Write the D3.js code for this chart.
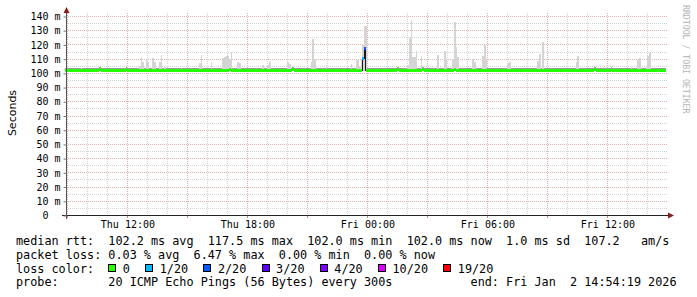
<!DOCTYPE html>
<html>
<head>
<meta charset="utf-8">
<script src="https://cdn.jsdelivr.net/npm/d3@7"></script>
<style>
  body { margin: 0; background: #fff; }
  svg { display: block; }
  text { font-family: "DejaVu Sans Mono", monospace; }
</style>
</head>
<body>
<svg id="chart" width="697" height="297"></svg>
<script>
const startTime = "2026-01-01 08:54:19";
const endTime = "2026-01-02 14:54:19";

const yTicks = [0, 10, 20, 30, 40, 50, 60, 70, 80, 90, 100, 110, 120, 130, 140];
const timeLabels = ["2026-01-01 12:00", "2026-01-01 18:00", "2026-01-02 00:00", "2026-01-02 06:00", "2026-01-02 12:00"];

// median rtt as step changes: time, ms, lost pings out of 20
const medianTimes = [
  "2026-01-01 08:54", "2026-01-01 10:35", "2026-01-01 10:40", "2026-01-01 11:55", "2026-01-01 12:00",
  "2026-01-01 17:05", "2026-01-01 17:10", "2026-01-01 20:15", "2026-01-01 20:20",
  "2026-01-01 23:45", "2026-01-01 23:50", "2026-01-01 23:55",
  "2026-01-02 01:30", "2026-01-02 01:35", "2026-01-02 02:45", "2026-01-02 02:50",
  "2026-01-02 04:20", "2026-01-02 04:25", "2026-01-02 11:20", "2026-01-02 11:25",
  "2026-01-02 12:10", "2026-01-02 12:15"
];
const medianValues = [
  102.0, 102.7, 102.0, 102.7, 102.0,
  102.7, 102.0, 102.7, 102.0,
  110.2, 117.5, 102.0,
  102.7, 102.0, 102.7, 102.0,
  102.7, 102.0, 102.7, 102.0,
  102.7, 102.0
];
const medianLoss = [
  0, 0, 0, 0, 0,
  0, 0, 0, 0,
  1, 2, 0,
  0, 0, 0, 0,
  0, 0, 0, 0,
  0, 0
];

// outlying pings (smoke), top of each 5 min column in ms
const smokeMin = 101.8;
const smokeTimes = [
  "2026-01-01 09:40", "2026-01-01 11:30", "2026-01-01 12:35", "2026-01-01 12:40", "2026-01-01 12:45",
  "2026-01-01 12:55", "2026-01-01 13:00", "2026-01-01 13:15", "2026-01-01 13:20", "2026-01-01 13:35",
  "2026-01-01 13:40", "2026-01-01 13:50", "2026-01-01 14:40", "2026-01-01 15:35", "2026-01-01 15:40",
  "2026-01-01 16:10", "2026-01-01 16:45", "2026-01-01 16:50", "2026-01-01 16:55", "2026-01-01 17:00",
  "2026-01-01 17:05", "2026-01-01 17:10", "2026-01-01 17:30", "2026-01-01 17:35", "2026-01-01 18:45",
  "2026-01-01 19:00", "2026-01-01 19:05", "2026-01-01 20:00", "2026-01-01 20:05", "2026-01-01 21:10",
  "2026-01-01 21:15", "2026-01-01 21:20", "2026-01-01 21:55", "2026-01-01 23:10", "2026-01-01 23:25",
  "2026-01-01 23:30", "2026-01-01 23:35", "2026-01-01 23:40", "2026-01-01 23:45", "2026-01-01 23:50",
  "2026-01-01 23:55",
  "2026-01-02 02:00", "2026-01-02 02:05", "2026-01-02 02:10", "2026-01-02 02:15", "2026-01-02 02:20",
  "2026-01-02 02:25", "2026-01-02 02:40", "2026-01-02 03:30", "2026-01-02 03:50", "2026-01-02 03:55",
  "2026-01-02 04:15", "2026-01-02 04:20", "2026-01-02 04:25", "2026-01-02 04:30", "2026-01-02 05:15",
  "2026-01-02 05:20", "2026-01-02 05:45", "2026-01-02 05:50", "2026-01-02 05:55", "2026-01-02 07:00",
  "2026-01-02 07:05", "2026-01-02 08:30", "2026-01-02 08:35", "2026-01-02 08:45", "2026-01-02 10:25",
  "2026-01-02 10:30", "2026-01-02 13:10", "2026-01-02 13:30", "2026-01-02 13:35", "2026-01-02 13:55",
  "2026-01-02 14:00", "2026-01-02 14:05"
];
const smokeTops = [
  103.5, 103.0, 105, 111.5, 108,
  109.5, 108, 110.7, 108, 108,
  112.6, 104.5, 104, 107, 112.6,
  108.3, 111, 111.4, 112, 112,
  110, 115, 108.3, 107, 106,
  106, 108.3, 108.3, 106.7, 108,
  124.3, 110, 106, 106.7, 110.2,
  109.7, 105, 110, 119.6, 133,
  133,
  106, 124.8, 137.2, 111.4, 111.4,
  115.4, 112, 113, 116, 110.2,
  110, 136, 118.4, 111.4, 109.8,
  108.3, 112, 120, 110, 107.2,
  108, 108.5, 113.3, 122, 108,
  112, 104.8, 109.5, 111, 104.3,
  112, 114.2
];

const lossLabels = ["0", "1/20", "2/20", "3/20", "4/20", "10/20", "19/20"];
const lossLevels = [0, 1, 2, 3, 4, 10, 19];
const lossColors = ["#26ff00", "#00b8ff", "#0059ff", "#5e00ff", "#7e00ff", "#dd00ff", "#ff0000"];

const legendLines = [
  "median rtt:  102.2 ms avg  117.5 ms max  102.0 ms min  102.0 ms now  1.0 ms sd  107.2   am/s",
  "packet loss: 0.03 % avg  6.47 % max  0.00 % min  0.00 % now",
  "loss color:",
  "probe:       20 ICMP Echo Pings (56 Bytes) every 300s           end: Fri Jan  2 14:54:19 2026"
];

const parseMin = d3.timeParse("%Y-%m-%d %H:%M");
const parseSec = d3.timeParse("%Y-%m-%d %H:%M:%S");
const t0 = parseSec(startTime);
const t1 = parseSec(endTime);
const step = 5 * 60 * 1000;

const svg = d3.select("#chart");
svg.append("rect").attr("width", 697).attr("height", 297).attr("fill", "#fff");

const x = d3.scaleTime().domain([t0, t1]).range([65.5, 665.5]);
const y = d3.scaleLinear().domain([0, 140]).range([215.5, 16.5]);
const px = (v) => Math.floor(v) + 0.5;

// grid
const grid = svg.append("g")
  .attr("fill", "none")
  .attr("shape-rendering", "crispEdges")
  .attr("stroke-dasharray", "1,1");

const yMinor = y.ticks(28).filter((d) => d % 10 !== 0 && d > 0);
grid.selectAll(".hmin")
  .data(yMinor)
  .enter()
  .append("line")
  .attr("x1", 66).attr("x2", 668)
  .attr("y1", (d) => px(y(d))).attr("y2", (d) => px(y(d)))
  .attr("stroke", "#d4d4d4");

const hours = d3.timeHour.every(1).range(t0, t1);
grid.selectAll(".vmin")
  .data(hours.filter((d) => d.getHours() % 3 !== 0))
  .enter()
  .append("line")
  .attr("x1", (d) => px(x(d))).attr("x2", (d) => px(x(d)))
  .attr("y1", 13).attr("y2", 215)
  .attr("stroke", "#d4d4d4");

grid.selectAll(".hmaj")
  .data(yTicks.filter((d) => d > 0))
  .enter()
  .append("line")
  .attr("x1", 66).attr("x2", 668)
  .attr("y1", (d) => px(y(d))).attr("y2", (d) => px(y(d)))
  .attr("stroke", "#e4b0b0");

const majorHours = hours.filter((d) => d.getHours() % 3 === 0);
grid.selectAll(".vmaj")
  .data(majorHours)
  .enter()
  .append("line")
  .attr("x1", (d) => px(x(d))).attr("x2", (d) => px(x(d)))
  .attr("y1", 13).attr("y2", 215)
  .attr("stroke", "#e4b0b0");

// median segments
const median = medianTimes.map((t, i) => ({
  t0: parseMin(t),
  t1: i + 1 < medianTimes.length ? parseMin(medianTimes[i + 1]) : t1,
  v: medianValues[i],
  loss: medianLoss[i]
}));

// smoke near the median
svg.append("g")
  .attr("shape-rendering", "crispEdges")
  .selectAll("rect")
  .data(median)
  .enter()
  .append("rect")
  .attr("x", (d) => x(d.t0))
  .attr("width", (d) => x(d.t1) - x(d.t0))
  .attr("y", (d) => y(d.v + 1.5))
  .attr("height", (d) => y(d.v) - y(d.v + 1.5))
  .attr("fill", "#9a9a9a");

// smoke spikes
const smoke = smokeTimes.map((t, i) => ({ t: parseMin(t), top: smokeTops[i] }));
svg.append("g")
  .attr("shape-rendering", "crispEdges")
  .selectAll("rect")
  .data(smoke)
  .enter()
  .append("rect")
  .attr("x", (d) => x(d.t))
  .attr("width", (d) => x(new Date(+d.t + step)) - x(d.t))
  .attr("y", (d) => y(d.top))
  .attr("height", (d) => y(smokeMin) - y(d.top))
  .attr("fill", "#d4d4d4");

// median step line
const stepPoints = median.map((d) => [d.t0, d.v]);
stepPoints.push([t1, median[median.length - 1].v]);
svg.append("path")
  .attr("d", d3.line().x((d) => x(d[0])).y((d) => px(y(d[1]))).curve(d3.curveStepAfter)(stepPoints))
  .attr("fill", "none")
  .attr("stroke", "#1a1a1a")
  .attr("stroke-width", 1)
  .attr("shape-rendering", "crispEdges");

const lossColor = (l) => lossColors[lossLevels.indexOf(l)];
svg.append("g")
  .attr("shape-rendering", "crispEdges")
  .selectAll("line")
  .data(median)
  .enter()
  .append("line")
  .attr("x1", (d) => x(d.t0)).attr("x2", (d) => x(d.t1))
  .attr("y1", (d) => px(y(d.v))).attr("y2", (d) => px(y(d.v)))
  .attr("stroke", (d) => lossColor(d.loss))
  .attr("stroke-width", 3);

// axes
const axisG = svg.append("g").attr("shape-rendering", "crispEdges");
axisG.append("line")
  .attr("x1", 62).attr("x2", 669).attr("y1", 215.5).attr("y2", 215.5)
  .attr("stroke", "#222");
axisG.append("line")
  .attr("x1", 66.5).attr("x2", 66.5).attr("y1", 219).attr("y2", 12)
  .attr("stroke", "#555");
axisG.selectAll(".xt")
  .data(majorHours)
  .enter()
  .append("line")
  .attr("x1", (d) => px(x(d))).attr("x2", (d) => px(x(d)))
  .attr("y1", 216).attr("y2", 218)
  .attr("stroke", "#c88");
svg.append("path")
  .attr("d", "M668,212.5L674,215.5L668,218.5Z")
  .attr("fill", "#8b1c1c");
svg.append("path")
  .attr("d", "M63.5,13L69.5,13L66.5,7Z")
  .attr("fill", "#8b1c1c");

const yAxis = svg.append("g")
  .attr("transform", "translate(66.5,0)")
  .call(d3.axisLeft(y).tickValues(yTicks).tickSize(3).tickPadding(3)
    .tickFormat((d) => (d === 0 ? "0  " : d + " m")));
yAxis.select(".domain").remove();
yAxis.selectAll("line").attr("stroke", "#777");
yAxis.selectAll("text")
  .attr("xml:space", "preserve")
  .style("white-space", "pre")
  .attr("font-family", "DejaVu Sans Mono")
  .attr("font-size", 10)
  .attr("fill", "#000");

const xAxis = svg.append("g")
  .attr("transform", "translate(0,215.5)")
  .call(d3.axisBottom(x).tickValues(timeLabels.map(parseMin)).tickSize(0).tickPadding(5)
    .tickFormat(d3.timeFormat("%a %H:%M")));
xAxis.select(".domain").remove();
xAxis.selectAll("text")
  .attr("font-family", "DejaVu Sans Mono")
  .attr("font-size", 10)
  .attr("fill", "#000");

// axis title and watermark
svg.append("text")
  .attr("transform", "translate(16,113) rotate(-90)")
  .attr("text-anchor", "middle")
  .style("font-family", "'DejaVu Sans', sans-serif")
  .attr("font-size", 11)
  .attr("fill", "#000")
  .text("Seconds");

svg.append("text")
  .attr("transform", "translate(683,5) rotate(90)")
  .attr("font-size", 8.2)
  .attr("fill", "#b4b4b4")
  .text("RRDTOOL / TOBI OETIKER");

// legend
const legendY = [245, 258.8, 272.5, 286.3];
svg.append("g")
  .selectAll("text")
  .data(legendLines)
  .enter()
  .append("text")
  .attr("x", 16)
  .attr("y", (d, i) => legendY[i])
  .attr("xml:space", "preserve")
  .style("white-space", "pre")
  .attr("font-size", 11.8)
  .attr("fill", "#000")
  .text((d) => d);

let cx = 108.3;
const lossG = svg.append("g");
lossLabels.forEach((label, i) => {
  lossG.append("rect")
    .attr("x", cx + 0.5).attr("y", legendY[2] - 8)
    .attr("width", 7).attr("height", 7)
    .attr("fill", lossColors[i])
    .attr("stroke", "#000")
    .attr("shape-rendering", "crispEdges");
  lossG.append("text")
    .attr("x", cx + 14.5)
    .attr("y", legendY[2])
    .attr("font-size", 11.8)
    .attr("fill", "#000")
    .text(label);
  cx += 14.5 + label.length * 7.1 + 15.3;
});
</script>
</body>
</html>
